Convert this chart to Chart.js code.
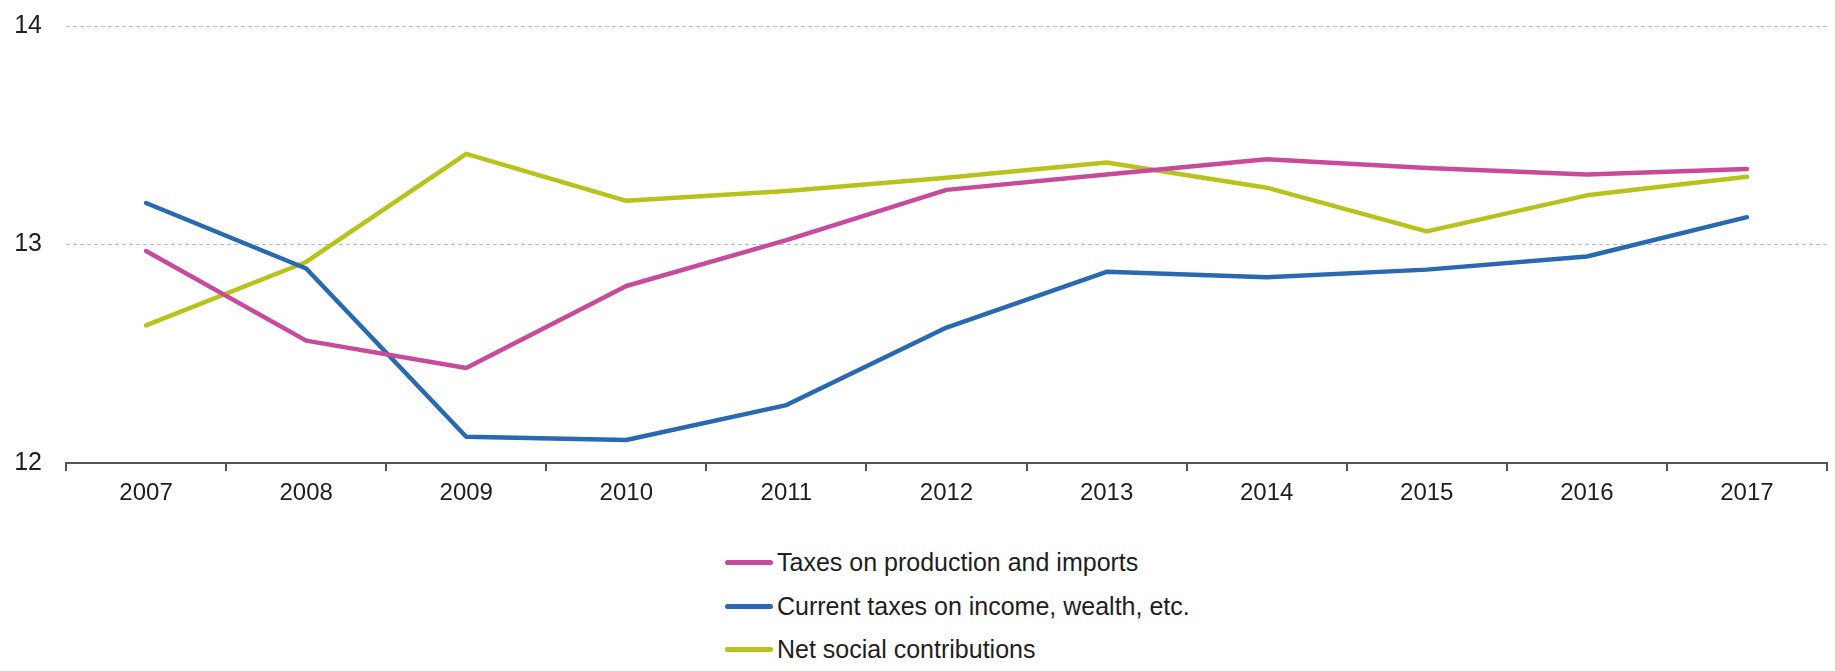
<!DOCTYPE html>
<html>
<head>
<meta charset="utf-8">
<script src="https://cdn.jsdelivr.net/npm/chart.js@4.4.1/dist/chart.umd.min.js"></script>
<style>
  html, body { margin: 0; padding: 0; background: #fff; }
  #wrap { position: relative; width: 1835px; height: 671px; }
  #chart { position: absolute; left: 0; top: 0; }
  #legend { position: absolute; left: 725px; top: 541px; font-family: 'Liberation Sans', Arial, sans-serif; font-size: 25px; color: #1e1e1e; }
  .item { height: 43.5px; display: flex; align-items: center; }
  .swatch { width: 48px; height: 5px; border-radius: 3px; margin-right: 4px; }
</style>
</head>
<body>
<div id="wrap">
  <canvas id="chart" width="1835" height="520"></canvas>
  <div id="legend"></div>
</div>
<script>
const years = ['2007', '2008', '2009', '2010', '2011', '2012', '2013', '2014', '2015', '2016', '2017'];
const taxesProduction = [12.97, 12.56, 12.435, 12.81, 13.02, 13.25, 13.32, 13.39, 13.35, 13.32, 13.345];
const currentTaxes = [13.19, 12.89, 12.12, 12.105, 12.265, 12.62, 12.875, 12.85, 12.885, 12.945, 13.125];
const socialContributions = [12.63, 12.92, 13.415, 13.2, 13.245, 13.305, 13.375, 13.26, 13.06, 13.225, 13.31];

const seriesNames = ['Taxes on production and imports', 'Current taxes on income, wealth, etc.', 'Net social contributions'];
const seriesColors = ['#c94a9a', '#2869b2', '#b7c31a'];

const FONT = "'Liberation Sans', Arial, sans-serif";

function makeDataset(label, data, color) {
  return {
    label: label,
    data: data,
    borderColor: color,
    backgroundColor: color,
    borderWidth: 4.5,
    borderJoinStyle: 'round',
    borderCapStyle: 'round',
    pointRadius: 0,
    tension: 0,
    fill: false,
  };
}

const allSeries = [taxesProduction, currentTaxes, socialContributions];

const chart = new Chart(document.getElementById('chart').getContext('2d'), {
  type: 'line',
  data: {
    labels: years,
    datasets: allSeries.map((s, i) => makeDataset(seriesNames[i], s, seriesColors[i]))
  },
  options: {
    responsive: false,
    animation: false,
    layout: { padding: { top: 26, right: 8, bottom: 0, left: 0 } },
    scales: {
      x: {
        offset: true,
        grid: {
          offset: true,
          drawOnChartArea: false,
          drawTicks: true,
          tickLength: 8,
          color: '#555',
          lineWidth: 2,
        },
        border: { display: true, color: '#555', width: 2 },
        ticks: { color: '#1e1e1e', font: { family: FONT, size: 24 }, padding: 8 },
        afterFit: function(scale) {
          scale.height = 57;
          scale.paddingLeft = 0;
          scale.paddingRight = 0;
        }
      },
      y: {
        min: 12,
        max: 14,
        ticks: { stepSize: 1, color: '#1e1e1e', font: { family: FONT, size: 25 }, padding: 24 },
        grid: {
          drawTicks: false,
          color: ctx => (ctx.tick && ctx.tick.value === 12) ? 'rgba(0,0,0,0)' : '#bdbdbd',
          lineWidth: 1,
        },
        border: { display: false, dash: [4, 3] },
        afterFit: function(scale) {
          scale.width = 66;
          // labels sit on the gridlines, no extra room needed above/below
          scale.paddingTop = 0;
          scale.paddingBottom = 0;
        }
      }
    },
    plugins: {
      legend: { display: false },
      tooltip: { enabled: false }
    }
  }
});

// Build the stacked legend under the chart
const legendEl = document.getElementById('legend');
seriesNames.forEach((name, i) => {
  const row = document.createElement('div');
  row.className = 'item';
  row.innerHTML = '<div class="swatch" style="background:' + seriesColors[i] + '"></div><span>' + name + '</span>';
  legendEl.appendChild(row);
});
</script>
</body>
</html>
